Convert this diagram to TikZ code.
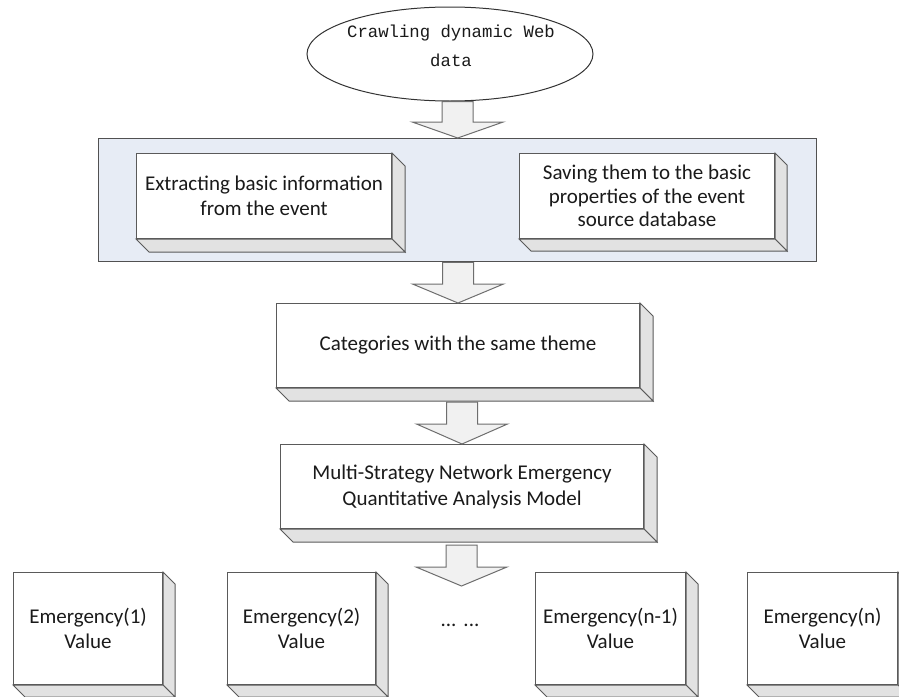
\documentclass[tikz,border=0pt]{standalone}
\usepackage{fontspec}
\setmainfont{Carlito}
\newfontfamily\monof{Liberation Mono}
\usetikzlibrary{shapes.geometric,calc}
\definecolor{linec}{HTML}{5A5A5A}
\definecolor{sidec}{HTML}{E2E2E2}
\definecolor{panelc}{HTML}{E7ECF5}
\definecolor{arrf}{HTML}{F1F1F1}
\definecolor{arrl}{HTML}{6E6E6E}
\definecolor{textc}{HTML}{1A1A1A}
\tikzset{
  face/.style={draw=linec, fill=white, line width=1pt, inner sep=0pt, anchor=north west,
    font=\fontsize{21}{25}\selectfont, text=textc, align=center},
  side/.style={draw=linec, fill=sidec, line width=1pt, line join=miter},
  panelbox/.style={draw=linec!90!black, fill=panelc, line width=1.4pt, inner sep=0pt, anchor=north west},
  ell/.style={ellipse, draw=black!80, line width=1pt, inner sep=0pt, minimum width=286pt,
    minimum height=94pt},
  elltext/.style={font=\monof\fontsize{17.3}{29}\selectfont, text=textc, align=center, inner sep=0pt},
  barrow/.style={draw=arrl, fill=arrf, line width=1pt, line join=miter},
  lbl/.style={font=\fontsize{21}{25}\selectfont, text=textc}
}
\newcommand\sidefaces[2]{%
  \draw[side] (#1.north east) -- ++(#2,#2) -- ($(#1.south east)+(#2,#2)$) -- (#1.south east) -- cycle;
  \draw[side] (#1.south west) -- ++(#2,#2) -- ($(#1.south east)+(#2,#2)$) -- (#1.south east) -- cycle;}
\newcommand\blockarrow[3]{%
  \draw[barrow] let \p1=(#1), \p2=(#2) in
    (\x2-15.5pt,\y1) -- (\x2+15.5pt,\y1) -- (\x2+15.5pt,\y2+#3pt) -- (\x2+45.5pt,\y2+#3pt)
    -- (\x2,\y2) -- (\x2-45.5pt,\y2+#3pt) -- (\x2-15.5pt,\y2+#3pt) -- cycle;}
\begin{document}
\begin{tikzpicture}[x=1pt,y=-1pt]
\path[use as bounding box] (0,0) rectangle (899,696);
\clip (0,0) rectangle (899,696);
\fill[white] (0,0) rectangle (899,696);

% top ellipse
\node[ell] (E) at (450,54) {};
\node[elltext] (Etxt) at (451,46) {Crawling dynamic Web\\data};

% panel with two boxes
\node[panelbox, minimum width=718pt, minimum height=123pt] (P) at (98,138) {};
\node[face, minimum width=255pt, minimum height=85pt] (A) at (136,153)
  {Extracting basic information\\from the event};
\sidefaces{A}{13}
\node[face, minimum width=255pt, minimum height=85pt, font=\fontsize{21}{23.5}\selectfont] (B) at (519,153)
  {Saving them to the basic\\properties of the event\\source database};
\sidefaces{B}{12}

% middle boxes
\node[face, minimum width=363pt, minimum height=84pt] (C) at (276,303)
  {Categories with the same theme};
\sidefaces{C}{13}
\node[face, minimum width=363pt, minimum height=84pt, font=\fontsize{21}{26}\selectfont] (D) at (280,444)
  {Multi-Strategy Network Emergency\\Quantitative Analysis Model};
\sidefaces{D}{13}

% bottom boxes
\node[face, minimum width=149pt, minimum height=112pt] (V1) at (13,572) {Emergency(1)\\Value};
\sidefaces{V1}{12}
\node[face, minimum width=148pt, minimum height=112pt] (V2) at (227,572) {Emergency(2)\\Value};
\sidefaces{V2}{12}
\node[face, minimum width=150pt, minimum height=112pt] (V3) at (535,572) {Emergency(n-1)\\Value};
\sidefaces{V3}{12}
\node[face, minimum width=150pt, minimum height=112pt] (V4) at (747,572) {Emergency(n)\\Value};
\sidefaces{V4}{12}
\node[lbl] (dots) at (460,625) {...\hspace{7pt}...};

% block arrows
\coordinate (t4) at (461.5,586);
\blockarrow{E.south}{P.north}{16}
\blockarrow{P.south}{C.north}{19}
\blockarrow{$(C.south)+(0,14)$}{D.north}{20}
\blockarrow{$(D.south)+(0,16)$}{t4}{19}
\end{tikzpicture}
\end{document}
